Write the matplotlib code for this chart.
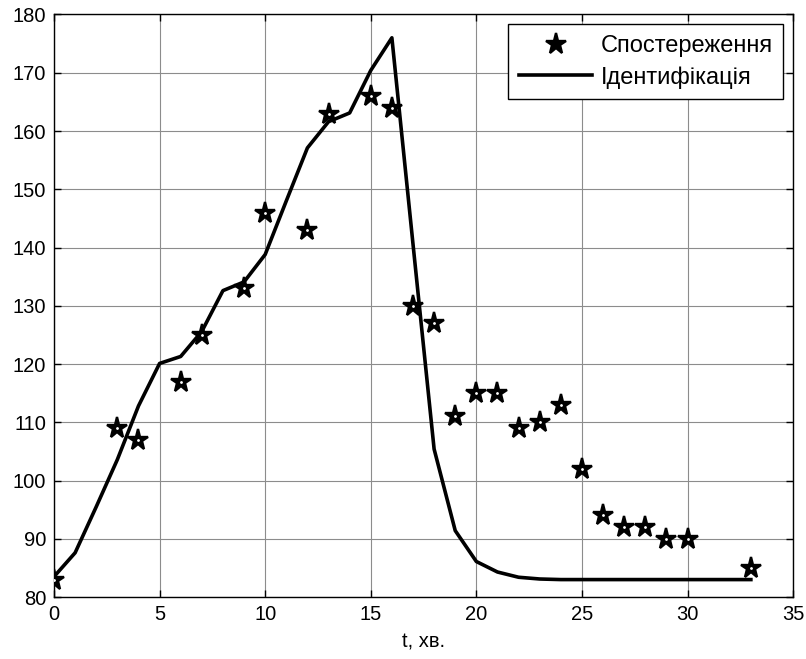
import matplotlib
matplotlib.use("Agg")
import matplotlib.pyplot as plt

plt.rcParams['font.family'] = ['Liberation Sans', 'DejaVu Sans']

obs_t = [0, 3, 4, 6, 7, 9, 10, 12, 13, 15, 16, 17, 18, 19, 20, 21, 22, 23, 24, 25, 26, 27, 28, 29, 30, 33]
obs_y = [83, 109, 107, 117, 125, 133, 146, 143, 163, 166, 164, 130, 127, 111, 115, 115, 109, 110, 113, 102, 94, 92, 92, 90, 90, 85]

fit_t = [0, 1, 2, 3, 4, 5, 6, 7, 8, 9, 10, 11, 12, 13, 14, 15, 16, 17, 18, 19, 20, 21, 22, 23, 24, 25, 26, 27, 28, 29, 30, 31, 32, 33]
fit_y = [83.5, 87.6, 95.5, 103.6, 112.8, 120.1, 121.3, 125.6, 132.6, 134.1, 138.8, 148.0, 157.1, 161.6, 163.1, 170.4, 176.0, 140.6, 105.4, 91.4, 86.1, 84.3, 83.4, 83.1, 83.0, 83.0, 83.0, 83.0, 83.0, 83.0, 83.0, 83.0, 83.0, 83.0]

xticks = [0, 5, 10, 15, 20, 25, 30, 35]
yticks = [80, 90, 100, 110, 120, 130, 140, 150, 160, 170, 180]

fig = plt.figure(figsize=(8.06, 6.59), dpi=100)
ax = fig.add_axes([0.067, 0.094, 0.917, 0.884])

ax.plot(obs_t, obs_y, linestyle='none', marker='*', markersize=15.5,
        markerfacecolor='black', markeredgecolor='black', markeredgewidth=1.7,
        label='Спостереження', zorder=3)
ax.plot(obs_t, obs_y, linestyle='none', marker='.', markersize=2,
        color='white', zorder=4)
ax.plot(fit_t, fit_y, color='black', linewidth=2.6, label='Ідентифікація', zorder=2)

ax.set_xlim(0, 35)
ax.set_ylim(80, 180)
ax.set_xticks(xticks)
ax.set_yticks(yticks)
ax.grid(True, color='#8c8c8c', linewidth=0.8)
ax.set_axisbelow(True)
ax.tick_params(direction='in', top=True, right=True, labelsize=14.5, length=5, width=1)
ax.tick_params(axis='y', pad=5.5)
ax.tick_params(axis='x', pad=6)
for s in ax.spines.values():
    s.set_linewidth(1.0)
ax.set_xlabel('t, хв.', fontsize=14.5, labelpad=6)

leg = ax.legend(loc='upper right', fontsize=17, fancybox=False, framealpha=1,
                edgecolor='black', borderaxespad=0.42, handlelength=3.1,
                handletextpad=0.35, labelspacing=0.38, borderpad=0.45)
leg.get_frame().set_linewidth(1.0)

fig.savefig('out.png', dpi=100)
